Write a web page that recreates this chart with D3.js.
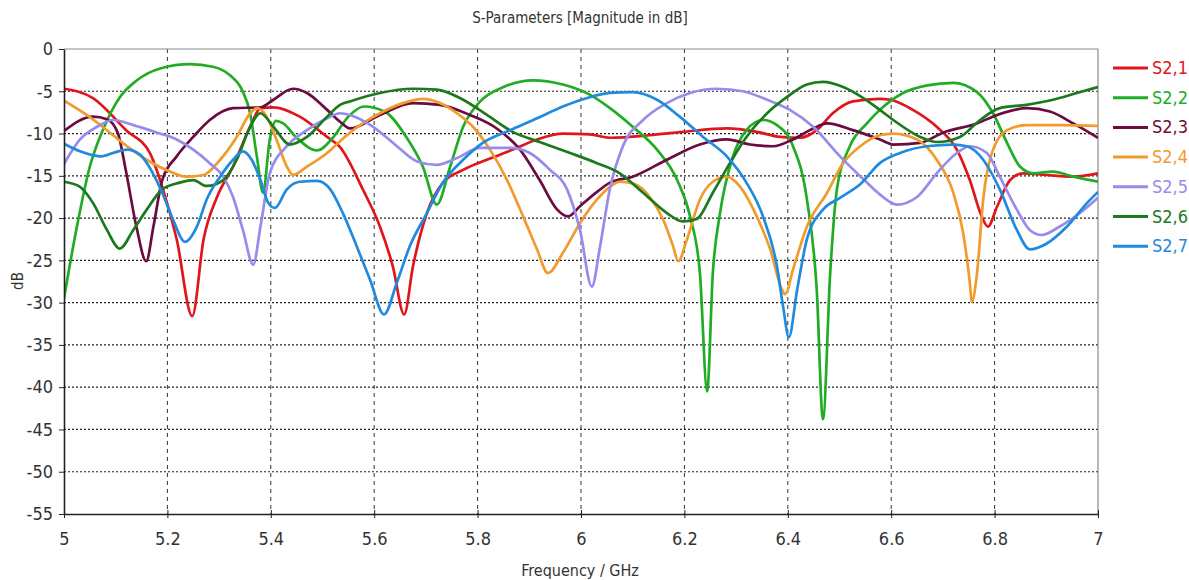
<!DOCTYPE html>
<html lang="en">
<head>
    <meta charset="utf-8">
    <script src="https://d3js.org/d3.v7.min.js"></script>
</head>
<body style="margin:0;background:#fff">
<style>
    text {
        font-family: "Liberation Sans Narrow", "DejaVu Sans Condensed", "Roboto Condensed", sans-serif;
    }
    .grid-h line { stroke: #222; stroke-dasharray: 2,2; stroke-width: 1.2px; }
    .grid-v line { stroke: #333; stroke-dasharray: 4,4; stroke-width: 1px; }
    .curve { fill: none; stroke-width: 2.7px; stroke-linejoin: round; }
</style>
<svg></svg>
<script>
    const width = 1189;
    const height = 580;

    // series names and colours
    const seriesNames = ['S2,1', 'S2,2', 'S2,3', 'S2,4', 'S2,5', 'S2,6', 'S2,7'];
    const seriesColors = ['#e0161d', '#20ad25', '#6c0b40', '#f29a2c', '#958ceb', '#1b7a1d', '#1f8ade'];

    // tick values and labels
    const xTicks = [5, 5.2, 5.4, 5.6, 5.8, 6, 6.2, 6.4, 6.6, 6.8, 7];
    const xTickLabels = ['5', '5.2', '5.4', '5.6', '5.8', '6', '6.2', '6.4', '6.6', '6.8', '7'];
    const yTicks = [0, -5, -10, -15, -20, -25, -30, -35, -40, -45, -50, -55];
    const yTickLabels = ['0', '-5', '-10', '-15', '-20', '-25', '-30', '-35', '-40', '-45', '-50', '-55'];

    // [frequency GHz, magnitude dB]
    const s21 = [[5.0,-4.7],[5.056,-5.8],[5.12,-9.6],[5.166,-12.3],[5.19,-16.3],[5.218,-22.5],[5.248,-31.6],[5.27,-22.5],[5.296,-17.5],[5.327,-13.9],[5.36,-9.2],[5.38,-7.0],[5.405,-6.9],[5.456,-8.0],[5.509,-10.4],[5.534,-11.6],[5.578,-16.6],[5.611,-21],[5.636,-25.7],[5.658,-31.4],[5.675,-25.7],[5.702,-19.4],[5.733,-15.8],[5.772,-14.3],[5.818,-13.1],[5.868,-11.9],[5.915,-10.7],[5.965,-10.0],[6.017,-10.1],[6.056,-10.5],[6.133,-10.2],[6.197,-9.8],[6.282,-9.4],[6.34,-9.8],[6.385,-10.4],[6.424,-10.5],[6.456,-9.6],[6.487,-7.6],[6.526,-6.2],[6.578,-5.9],[6.598,-6.0],[6.642,-7.2],[6.688,-9.2],[6.727,-11.9],[6.752,-15.5],[6.775,-19.8],[6.787,-21.0],[6.805,-18.6],[6.83,-15.5],[6.855,-14.7],[6.9,-14.9],[6.95,-15.1],[7.0,-14.7]];
    const s22 = [[5.0,-29.5],[5.025,-21],[5.05,-13.9],[5.075,-9.6],[5.108,-5.7],[5.141,-3.7],[5.186,-2.3],[5.244,-1.8],[5.288,-2.1],[5.321,-3.1],[5.344,-4.8],[5.36,-7.6],[5.373,-12.7],[5.385,-17.0],[5.398,-10.7],[5.41,-8.5],[5.424,-8.8],[5.45,-10.5],[5.49,-12.0],[5.52,-10.5],[5.55,-8.0],[5.58,-6.8],[5.62,-7.4],[5.662,-10.4],[5.694,-13.9],[5.721,-18.4],[5.747,-13.9],[5.772,-9.2],[5.805,-6.2],[5.85,-4.5],[5.907,-3.7],[5.965,-4.2],[6.017,-5.4],[6.056,-7.0],[6.1,-9.2],[6.147,-11.9],[6.186,-15.5],[6.211,-19.8],[6.23,-26.5],[6.244,-40.5],[6.255,-26.5],[6.269,-19.4],[6.294,-12.7],[6.32,-9.6],[6.352,-8.4],[6.379,-9.0],[6.41,-11.5],[6.437,-17.8],[6.456,-28.5],[6.468,-43.8],[6.482,-26.5],[6.495,-16.6],[6.52,-11.5],[6.553,-8.8],[6.578,-7.2],[6.623,-5.2],[6.67,-4.3],[6.72,-4.0],[6.766,-5.1],[6.797,-7.6],[6.824,-11.1],[6.849,-13.9],[6.875,-14.7],[6.913,-14.5],[6.952,-15.1],[7.0,-15.7]];
    const s23 = [[5.0,-9.7],[5.056,-8.0],[5.083,-8.3],[5.104,-9.9],[5.12,-14.5],[5.14,-21],[5.159,-25.1],[5.173,-21],[5.19,-15.5],[5.218,-12.7],[5.25,-10.4],[5.282,-8.4],[5.327,-7.0],[5.38,-6.9],[5.405,-6.0],[5.443,-4.7],[5.47,-5.2],[5.509,-7.2],[5.534,-8.6],[5.553,-9.4],[5.611,-7.8],[5.675,-6.4],[5.727,-6.6],[5.785,-7.8],[5.837,-9.4],[5.882,-11.9],[5.92,-15.5],[5.954,-19],[5.975,-19.8],[5.998,-18.6],[6.031,-16.9],[6.056,-15.8],[6.1,-15.1],[6.166,-13.1],[6.23,-11.3],[6.282,-10.7],[6.327,-11.3],[6.371,-11.5],[6.41,-10.7],[6.449,-9.4],[6.476,-8.8],[6.526,-9.6],[6.578,-10.7],[6.604,-11.3],[6.656,-11.1],[6.7,-9.9],[6.766,-8.8],[6.805,-7.8],[6.862,-7.0],[6.907,-7.4],[6.952,-8.8],[7.0,-10.5]];
    const s24 = [[5.0,-6.1],[5.044,-7.8],[5.089,-9.9],[5.122,-11.5],[5.16,-13.1],[5.205,-14.5],[5.238,-15.1],[5.27,-14.9],[5.302,-13.1],[5.334,-10.4],[5.36,-7.6],[5.373,-7.0],[5.392,-8.0],[5.411,-10.7],[5.431,-13.9],[5.443,-14.9],[5.47,-13.9],[5.509,-12.3],[5.534,-10.9],[5.553,-9.9],[5.611,-7.6],[5.656,-6.4],[5.694,-5.9],[5.727,-6.4],[5.76,-7.6],[5.791,-9.2],[5.824,-11.9],[5.857,-15.5],[5.888,-19.8],[5.915,-23.7],[5.936,-26.5],[5.965,-24.1],[5.998,-20.6],[6.031,-17.8],[6.056,-16.3],[6.075,-15.7],[6.1,-15.9],[6.133,-17.5],[6.159,-20.2],[6.178,-23.3],[6.188,-25.1],[6.205,-22.5],[6.23,-17.8],[6.255,-15.7],[6.282,-15.1],[6.308,-16.3],[6.34,-19.8],[6.366,-23.7],[6.389,-28.5],[6.395,-29.0],[6.41,-26.1],[6.437,-21.0],[6.476,-17.0],[6.507,-13.5],[6.54,-11.5],[6.578,-10.2],[6.604,-10.0],[6.65,-10.7],[6.688,-13.1],[6.72,-17.0],[6.739,-21.7],[6.752,-27.6],[6.756,-29.9],[6.766,-26.5],[6.778,-17.8],[6.797,-11.9],[6.824,-9.6],[6.862,-9.0],[6.926,-9.0],[7.0,-9.1]];
    const s25 = [[5.0,-13.6],[5.031,-10.7],[5.064,-9.2],[5.095,-8.4],[5.134,-9.0],[5.18,-9.9],[5.218,-10.7],[5.25,-11.9],[5.282,-13.5],[5.308,-15.1],[5.327,-17.5],[5.346,-21.4],[5.366,-25.5],[5.38,-21.0],[5.398,-14.7],[5.431,-11.5],[5.47,-9.6],[5.509,-8.2],[5.534,-7.6],[5.553,-7.8],[5.598,-9.2],[5.644,-11.5],[5.683,-13.3],[5.721,-13.7],[5.76,-12.9],[5.805,-11.7],[5.863,-11.7],[5.901,-12.3],[5.94,-14.3],[5.973,-16.6],[5.998,-21.4],[6.021,-28.1],[6.037,-23.3],[6.056,-16.5],[6.081,-11.5],[6.12,-8.4],[6.166,-6.4],[6.211,-5.2],[6.263,-4.7],[6.313,-5.0],[6.36,-6.0],[6.404,-7.2],[6.449,-9.2],[6.501,-12.7],[6.553,-15.8],[6.578,-17.2],[6.611,-18.4],[6.65,-17.5],[6.688,-14.7],[6.727,-12.3],[6.752,-11.5],[6.785,-12.3],[6.81,-15.1],[6.843,-19.0],[6.868,-21.4],[6.891,-22.0],[6.926,-21.0],[6.965,-19.4],[7.0,-17.6]];
    const s26 = [[5.0,-15.7],[5.031,-16.3],[5.056,-18.2],[5.083,-21.4],[5.108,-23.6],[5.134,-21.4],[5.16,-19.0],[5.19,-16.6],[5.224,-15.8],[5.25,-15.5],[5.276,-16.2],[5.308,-15.5],[5.334,-13.1],[5.36,-9.2],[5.38,-7.6],[5.405,-9.2],[5.437,-11.3],[5.47,-10.4],[5.509,-8.0],[5.534,-6.6],[5.553,-6.2],[5.611,-5.2],[5.675,-4.7],[5.721,-4.8],[5.772,-6.0],[5.818,-7.8],[5.868,-9.8],[5.92,-11.0],[5.979,-12.3],[6.031,-13.5],[6.075,-14.7],[6.12,-17.0],[6.166,-19.4],[6.197,-20.4],[6.224,-20.1],[6.255,-17.0],[6.288,-13.5],[6.32,-10.4],[6.36,-7.6],[6.398,-5.7],[6.437,-4.2],[6.468,-3.9],[6.507,-4.5],[6.546,-5.8],[6.578,-7.2],[6.604,-8.4],[6.656,-10.4],[6.688,-11.0],[6.733,-10.4],[6.772,-8.4],[6.81,-7.0],[6.862,-6.6],[6.913,-6.0],[6.959,-5.2],[7.0,-4.5]];
    const s27 = [[5.0,-11.2],[5.031,-12.1],[5.07,-12.7],[5.095,-12.3],[5.122,-11.9],[5.147,-12.5],[5.172,-14.7],[5.19,-17.0],[5.211,-20.2],[5.234,-22.8],[5.257,-21.0],[5.276,-17.8],[5.302,-15.1],[5.327,-13.1],[5.346,-12.1],[5.363,-13.1],[5.38,-15.5],[5.395,-18.2],[5.408,-18.8],[5.431,-16.6],[5.456,-15.7],[5.49,-15.6],[5.515,-16.6],[5.54,-19.5],[5.566,-23.3],[5.592,-27.3],[5.619,-31.4],[5.644,-27.6],[5.669,-23.3],[5.702,-19.4],[5.733,-15.8],[5.772,-13.1],[5.81,-11.1],[5.863,-9.6],[5.915,-8.2],[5.965,-6.8],[6.017,-5.7],[6.056,-5.2],[6.1,-5.1],[6.147,-6.0],[6.191,-8.0],[6.236,-10.4],[6.282,-12.7],[6.32,-15.8],[6.352,-19.8],[6.379,-25.7],[6.391,-30.5],[6.402,-34.1],[6.418,-28.5],[6.437,-22.5],[6.468,-19.0],[6.501,-17.6],[6.54,-16.0],[6.578,-13.5],[6.617,-12.3],[6.669,-11.5],[6.72,-11.3],[6.746,-11.5],[6.778,-13.1],[6.81,-16.6],[6.843,-21.4],[6.868,-23.7],[6.901,-23.0],[6.94,-21.0],[6.979,-18.2],[7.0,-16.9]];
    const allSeries = [s21, s22, s23, s24, s25, s26, s27];

    const margin = {top: 49, right: 91, bottom: 66, left: 64};
    const plotW = width - margin.left - margin.right;
    const plotH = height - margin.top - margin.bottom;

    const svg = d3.select('svg').attr('width', width).attr('height', height);

    const x = d3.scaleLinear().domain([5, 7]).range([0, plotW]);
    const y = d3.scaleLinear().domain([-55, 0]).range([plotH, 0]);

    const g = svg.append('g').attr('transform', `translate(${margin.left},${margin.top})`);

    // grid
    g.append('g').attr('class', 'grid-h')
        .selectAll('line').data(yTicks.filter(v => v > -55 && v < 0)).enter().append('line')
        .attr('x1', 0).attr('x2', plotW)
        .attr('y1', d => y(d)).attr('y2', d => y(d));
    g.append('g').attr('class', 'grid-v')
        .selectAll('line').data(xTicks.filter(v => v > 5 && v < 7)).enter().append('line')
        .attr('y1', 0).attr('y2', plotH)
        .attr('x1', d => x(d)).attr('x2', d => x(d));

    // top / right frame
    g.append('path')
        .attr('d', `M0,0H${plotW}V${plotH}`)
        .attr('fill', 'none').attr('stroke', '#8a8a8a').attr('stroke-width', 1.2);

    // curves
    const line = d3.line()
        .x(d => x(d[0]))
        .y(d => y(d[1]))
        .curve(d3.curveMonotoneX);

    g.append('defs').append('clipPath').attr('id', 'clip')
        .append('rect').attr('width', plotW).attr('height', plotH);

    g.append('g').attr('clip-path', 'url(#clip)')
        .selectAll('path').data(allSeries).enter().append('path')
        .attr('class', 'curve')
        .attr('stroke', (d, i) => seriesColors[i])
        .attr('d', line);

    // axes
    const xAxis = d3.axisBottom(x).tickValues(xTicks)
        .tickFormat((d, i) => xTickLabels[i]).tickSizeInner(4).tickSizeOuter(0).tickPadding(14);
    const gx = g.append('g').attr('transform', `translate(0,${plotH})`).call(xAxis);
    gx.selectAll('.tick line').attr('y1', -4).attr('stroke', '#222');
    gx.select('.domain').attr('stroke', '#222').attr('stroke-width', 1.6);
    gx.selectAll('text').attr('font-size', 18).attr('fill', '#333');

    const yAxis = d3.axisLeft(y).tickValues(yTicks)
        .tickFormat((d, i) => yTickLabels[i]).tickSizeInner(5).tickSizeOuter(0).tickPadding(6);
    const gy = g.append('g').call(yAxis);
    gy.selectAll('.tick line').attr('stroke', '#222');
    gy.select('.domain').attr('stroke', '#222').attr('stroke-width', 1.6);
    gy.selectAll('text').attr('font-size', 18).attr('fill', '#333');

    // titles
    svg.append('text').attr('x', 580).attr('y', 23)
        .attr('text-anchor', 'middle').attr('font-size', 15).attr('fill', '#333')
        .text('S-Parameters [Magnitude in dB]');
    svg.append('text').attr('x', 580).attr('y', 576)
        .attr('text-anchor', 'middle').attr('font-size', 16).attr('fill', '#333')
        .text('Frequency / GHz');
    svg.append('text')
        .attr('transform', 'translate(23,281) rotate(-90)')
        .attr('text-anchor', 'middle').attr('font-size', 15).attr('fill', '#333')
        .text('dB');

    // legend
    const legend = svg.append('g').attr('transform', 'translate(1113,68)');
    const items = legend.selectAll('g').data(seriesNames).enter().append('g')
        .attr('transform', (d, i) => `translate(0,${i * 29.7})`);
    items.append('line').attr('x1', 0).attr('x2', 35)
        .attr('stroke', (d, i) => seriesColors[i]).attr('stroke-width', 3);
    items.append('text').attr('x', 39).attr('y', 6)
        .attr('font-size', 18).attr('fill', (d, i) => seriesColors[i])
        .text(d => d);
</script>
</body>
</html>
